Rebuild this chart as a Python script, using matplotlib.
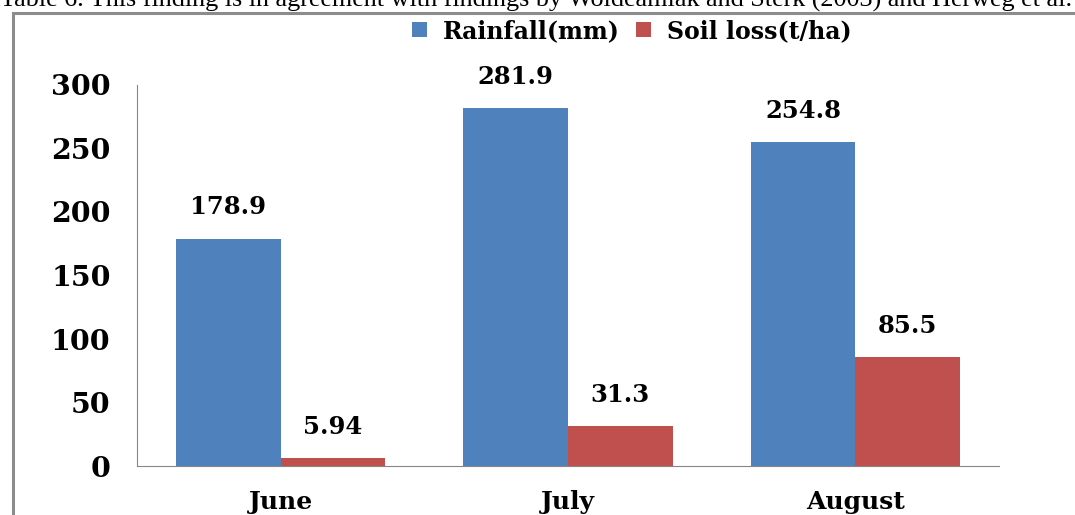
import matplotlib
import matplotlib.pyplot as plt
import numpy as np
from matplotlib.patches import Rectangle

matplotlib.use("Agg")

months = ["June", "July", "August"]
rainfall = [178.9, 281.9, 254.8]
soil_loss = [5.94, 31.3, 85.5]
rain_labels = ["178.9", "281.9", "254.8"]
soil_labels = ["5.94", "31.3", "85.5"]
series_names = ["Rainfall(mm)", "Soil loss(t/ha)"]
yticks = [0, 50, 100, 150, 200, 250, 300]
caption = ("Table 6. This finding is in agreement with findings by "
           "Woldeamlak and Sterk (2003) and Herweg et al.")

BLUE = "#4F81BD"
RED = "#C0504D"
GREY = "#868686"
FONT = "DejaVu Serif"


def main():
    fig = plt.figure(figsize=(10.75, 5.15), dpi=100)
    ax = fig.add_axes([0.1274, 0.0951, 0.8019, 0.7399])

    x = np.arange(len(months))
    w = 0.364
    ax.bar(x - w / 2, rainfall, w, color=BLUE, label=series_names[0])
    ax.bar(x + w / 2, soil_loss, w, color=RED, label=series_names[1])

    for xi, v, s in zip(x - w / 2, rainfall, rain_labels):
        ax.annotate(s, (xi, v), xytext=(0, 14), textcoords="offset points",
                    ha="center", va="bottom", fontsize=17.5,
                    fontweight="bold", family=FONT)
    for xi, v, s in zip(x + w / 2, soil_loss, soil_labels):
        ax.annotate(s, (xi, v), xytext=(0, 14), textcoords="offset points",
                    ha="center", va="bottom", fontsize=17.5,
                    fontweight="bold", family=FONT)

    ax.set_xlim(-0.5, 2.5)
    ax.set_ylim(0, 300)
    ax.set_xticks(x)
    ax.set_xticklabels(months)
    ax.set_yticks(yticks)
    ax.tick_params(axis="both", length=0)
    ax.tick_params(axis="x", pad=17, labelsize=18)
    ax.tick_params(axis="y", pad=19, labelsize=20.5)
    for lab in ax.get_xticklabels() + ax.get_yticklabels():
        lab.set_fontweight("bold")
        lab.set_family(FONT)

    ax.spines["top"].set_visible(False)
    ax.spines["right"].set_visible(False)
    ax.spines["left"].set_color(GREY)
    ax.spines["bottom"].set_color(GREY)

    fig.legend(loc="center", bbox_to_anchor=(0.588, 0.94), ncol=2,
               frameon=False, handlelength=0.6, handleheight=0.6,
               handletextpad=0.7, columnspacing=0.7,
               prop={"family": FONT, "weight": "bold", "size": 17})

    # frame of the pasted chart, running off the right and bottom
    fig.patches.append(Rectangle((0.012, -0.1), 1.1, 1.075,
                                 transform=fig.transFigure, fill=False,
                                 edgecolor="#8c8c8c", linewidth=2.2))
    fig.text(0.0, 1.0 - 7 / 515, caption, ha="left", va="baseline",
             fontsize=18.8, family="Liberation Serif")

    fig.savefig("out.png", dpi=100)
    return 0


if __name__ == "__main__":
    main()
